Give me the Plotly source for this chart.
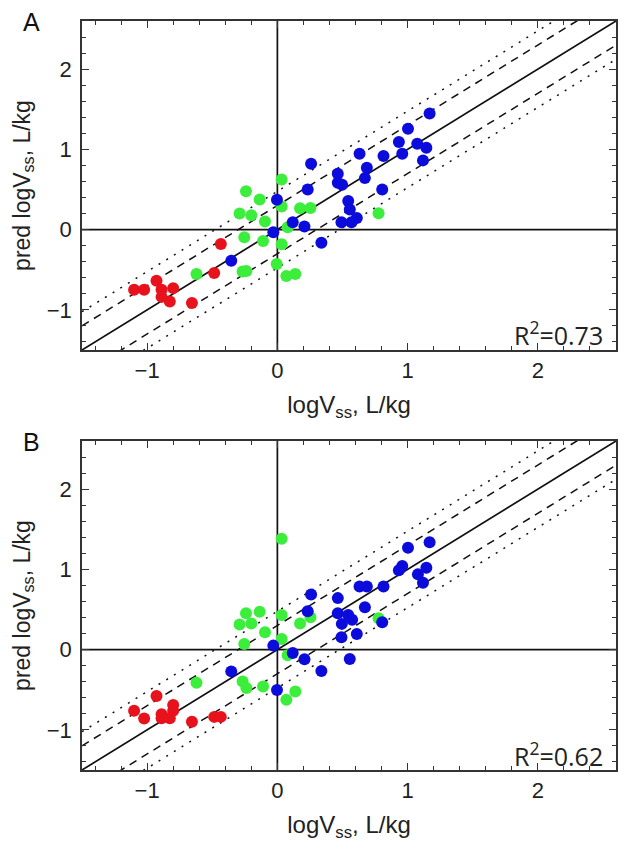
import plotly.graph_objects as go

# ---------------- data ----------------
# Panel A
a_blue_x = [1.169, 1.003, 0.933, 1.074, 1.144, 0.959, 1.118, 0.631, 0.815, 0.259, 0.687, 0.464, 0.464, 0.497,
            0.672, 0.233, 0.805, 0.544, 0.556, 0.610, 0.569, 0.492, 0.118, 0.208, -0.003, -0.031, 0.338, -0.354]
a_blue_y = [1.446, 1.258, 1.092, 1.071, 1.021, 0.946, 0.863, 0.946, 0.917, 0.821, 0.771, 0.696, 0.583, 0.558,
            0.642, 0.500, 0.500, 0.358, 0.250, 0.146, 0.092, 0.092, 0.092, 0.038, 0.371, -0.033, -0.163, -0.388]
a_green_x = [0.033, -0.241, -0.136, 0.033, 0.174, 0.254, -0.290, -0.200, -0.095, 0.079, 0.777, -0.254, -0.110,
             0.033, -0.005, -0.267, -0.238, -0.621, 0.069, 0.138]
a_green_y = [0.625, 0.479, 0.375, 0.288, 0.267, 0.271, 0.200, 0.179, 0.100, 0.029, 0.204, -0.096, -0.142,
             -0.183, -0.429, -0.521, -0.517, -0.554, -0.579, -0.554]
a_red_x = [-1.100, -1.023, -0.928, -0.889, -0.800, -0.889, -0.826, -0.656, -0.485, -0.434]
a_red_y = [-0.750, -0.750, -0.638, -0.750, -0.729, -0.838, -0.896, -0.913, -0.540, -0.179]

# Panel B
b_blue_x = [1.169, 1.003, 0.959, 0.933, 1.079, 1.144, 1.118, 0.631, 0.687, 0.815, 0.259, 0.464, 0.233, 0.464,
            0.544, 0.574, 0.495, 0.672, 0.805, 0.610, 0.492, -0.031, 0.118, 0.208, 0.556, 0.338, -0.354, -0.003]
b_blue_y = [1.338, 1.271, 1.042, 0.988, 0.938, 1.021, 0.833, 0.788, 0.788, 0.788, 0.688, 0.642, 0.479, 0.454,
            0.433, 0.371, 0.321, 0.529, 0.342, 0.196, 0.154, 0.050, -0.042, -0.121, -0.117, -0.267, -0.271, -0.504]
b_green_x = [0.033, -0.241, -0.136, 0.033, -0.290, -0.200, -0.095, 0.174, 0.254, 0.033, -0.254, 0.777, 0.079,
             -0.267, -0.238, -0.110, -0.621, 0.138, 0.069]
b_green_y = [1.383, 0.454, 0.471, 0.433, 0.313, 0.325, 0.217, 0.325, 0.404, 0.133, 0.071, 0.392, -0.071,
             -0.396, -0.479, -0.458, -0.413, -0.521, -0.625]
b_red_x = [-1.100, -1.023, -0.928, -0.889, -0.889, -0.800, -0.800, -0.826, -0.656, -0.485, -0.434]
b_red_y = [-0.763, -0.858, -0.579, -0.804, -0.854, -0.691, -0.763, -0.854, -0.900, -0.838, -0.838]

r2_labels = ["R<sup>2</sup>=0.73", "R<sup>2</sup>=0.62"]
panel_labels = ["A", "B"]
axis_range = [-1.5, 2.6]
fold2 = 0.301   # 2-fold error (dashed)
fold3 = 0.477   # 3-fold error (dotted)

# ---------------- figure ----------------
OFF = 8                      # page body margin of the html output
W, H = 629 - OFF, 859 - OFF
BLUE, GREEN, RED = "#0b0bdc", "#3cee3c", "#e8121c"
FONT = "Liberation Sans, Arial, sans-serif"

fig = go.Figure()

# pixel layout of the two panels (window coordinates)
px_left, px_right = 82, 616
panels = [(21, 350), (441, 770)]

def pxx(p):
    return (p - OFF) / W

def py(p):
    return 1 - (p - OFF) / H

panel_data = [
    (a_blue_x, a_blue_y, a_green_x, a_green_y, a_red_x, a_red_y),
    (b_blue_x, b_blue_y, b_green_x, b_green_y, b_red_x, b_red_y),
]

for i, (top, bot) in enumerate(panels):
    xa = "x" if i == 0 else "x2"
    ya = "y" if i == 0 else "y2"
    lx = [axis_range[0], axis_range[1]]
    # reference lines
    for off, dash in [(fold3, "2px,7px"), (-fold3, "2px,7px"), (fold2, "8px,6px"), (-fold2, "8px,6px"), (0, "solid")]:
        fig.add_trace(go.Scatter(x=lx, y=[v + off for v in lx], mode="lines",
                                 line=dict(color="#111111", width=1.7 if off == 0 else 1.5, dash=dash),
                                 xaxis=xa, yaxis=ya, showlegend=False, hoverinfo="skip"))
    # zero axes
    fig.add_trace(go.Scatter(x=lx, y=[0, 0], mode="lines", line=dict(color="#111111", width=1.7),
                             xaxis=xa, yaxis=ya, showlegend=False, hoverinfo="skip"))
    fig.add_trace(go.Scatter(x=[0, 0], y=lx, mode="lines", line=dict(color="#111111", width=1.7),
                             xaxis=xa, yaxis=ya, showlegend=False, hoverinfo="skip"))
    bx, by, gx, gy, rx, ry = panel_data[i]
    for xs, ys, c in [(gx, gy, GREEN), (bx, by, BLUE), (rx, ry, RED)]:
        fig.add_trace(go.Scatter(x=xs, y=ys, mode="markers",
                                 marker=dict(color=c, size=12, line=dict(width=0)),
                                 xaxis=xa, yaxis=ya, showlegend=False))

    axis_common = dict(range=axis_range, showgrid=False, zeroline=False, showline=True,
                       linecolor="#333333", linewidth=1.6, mirror="ticks",
                       ticks="inside", ticklen=7, tickwidth=1.3, tickcolor="#333333",
                       tickmode="array", tickvals=[-1, 0, 1, 2],
                       minor=dict(ticks="inside", ticklen=4, tickwidth=1.1, tickcolor="#333333",
                                  dtick=0.2, tick0=0, showgrid=False),
                       tickfont=dict(family=FONT, size=22, color="#222222"),
                       fixedrange=True)
    xkey = "xaxis" if i == 0 else "xaxis2"
    ykey = "yaxis" if i == 0 else "yaxis2"
    fig.update_layout(**{
        xkey: dict(axis_common, domain=[pxx(px_left), pxx(px_right)], anchor=ya,
                   title=dict(text="logV<sub>ss</sub>, L/kg", standoff=14,
                              font=dict(family=FONT, size=24, color="#222222"))),
        ykey: dict(axis_common, domain=[py(bot), py(top)], anchor=xa,
                   ticklabelstandoff=4,
                   title=dict(text="pred logV<sub>ss</sub>, L/kg", standoff=10,
                              font=dict(family=FONT, size=23, color="#222222"))),
    })
    fig.add_annotation(x=pxx(605), y=py(bot - 16), xref="paper", yref="paper",
                       text=r2_labels[i], showarrow=False, xanchor="right", yanchor="middle",
                       font=dict(family="Open Sans, sans-serif", size=25, color="#222222"))
    fig.add_annotation(x=pxx(31), y=py(top + 1), xref="paper", yref="paper",
                       text=panel_labels[i], showarrow=False, xanchor="center", yanchor="middle",
                       font=dict(family=FONT, size=25, color="#111111"))

fig.update_layout(width=W, height=H, autosize=False,
                  margin=dict(l=0, r=0, t=0, b=0),
                  paper_bgcolor="white", plot_bgcolor="white")

fig.write_html("out.html")
